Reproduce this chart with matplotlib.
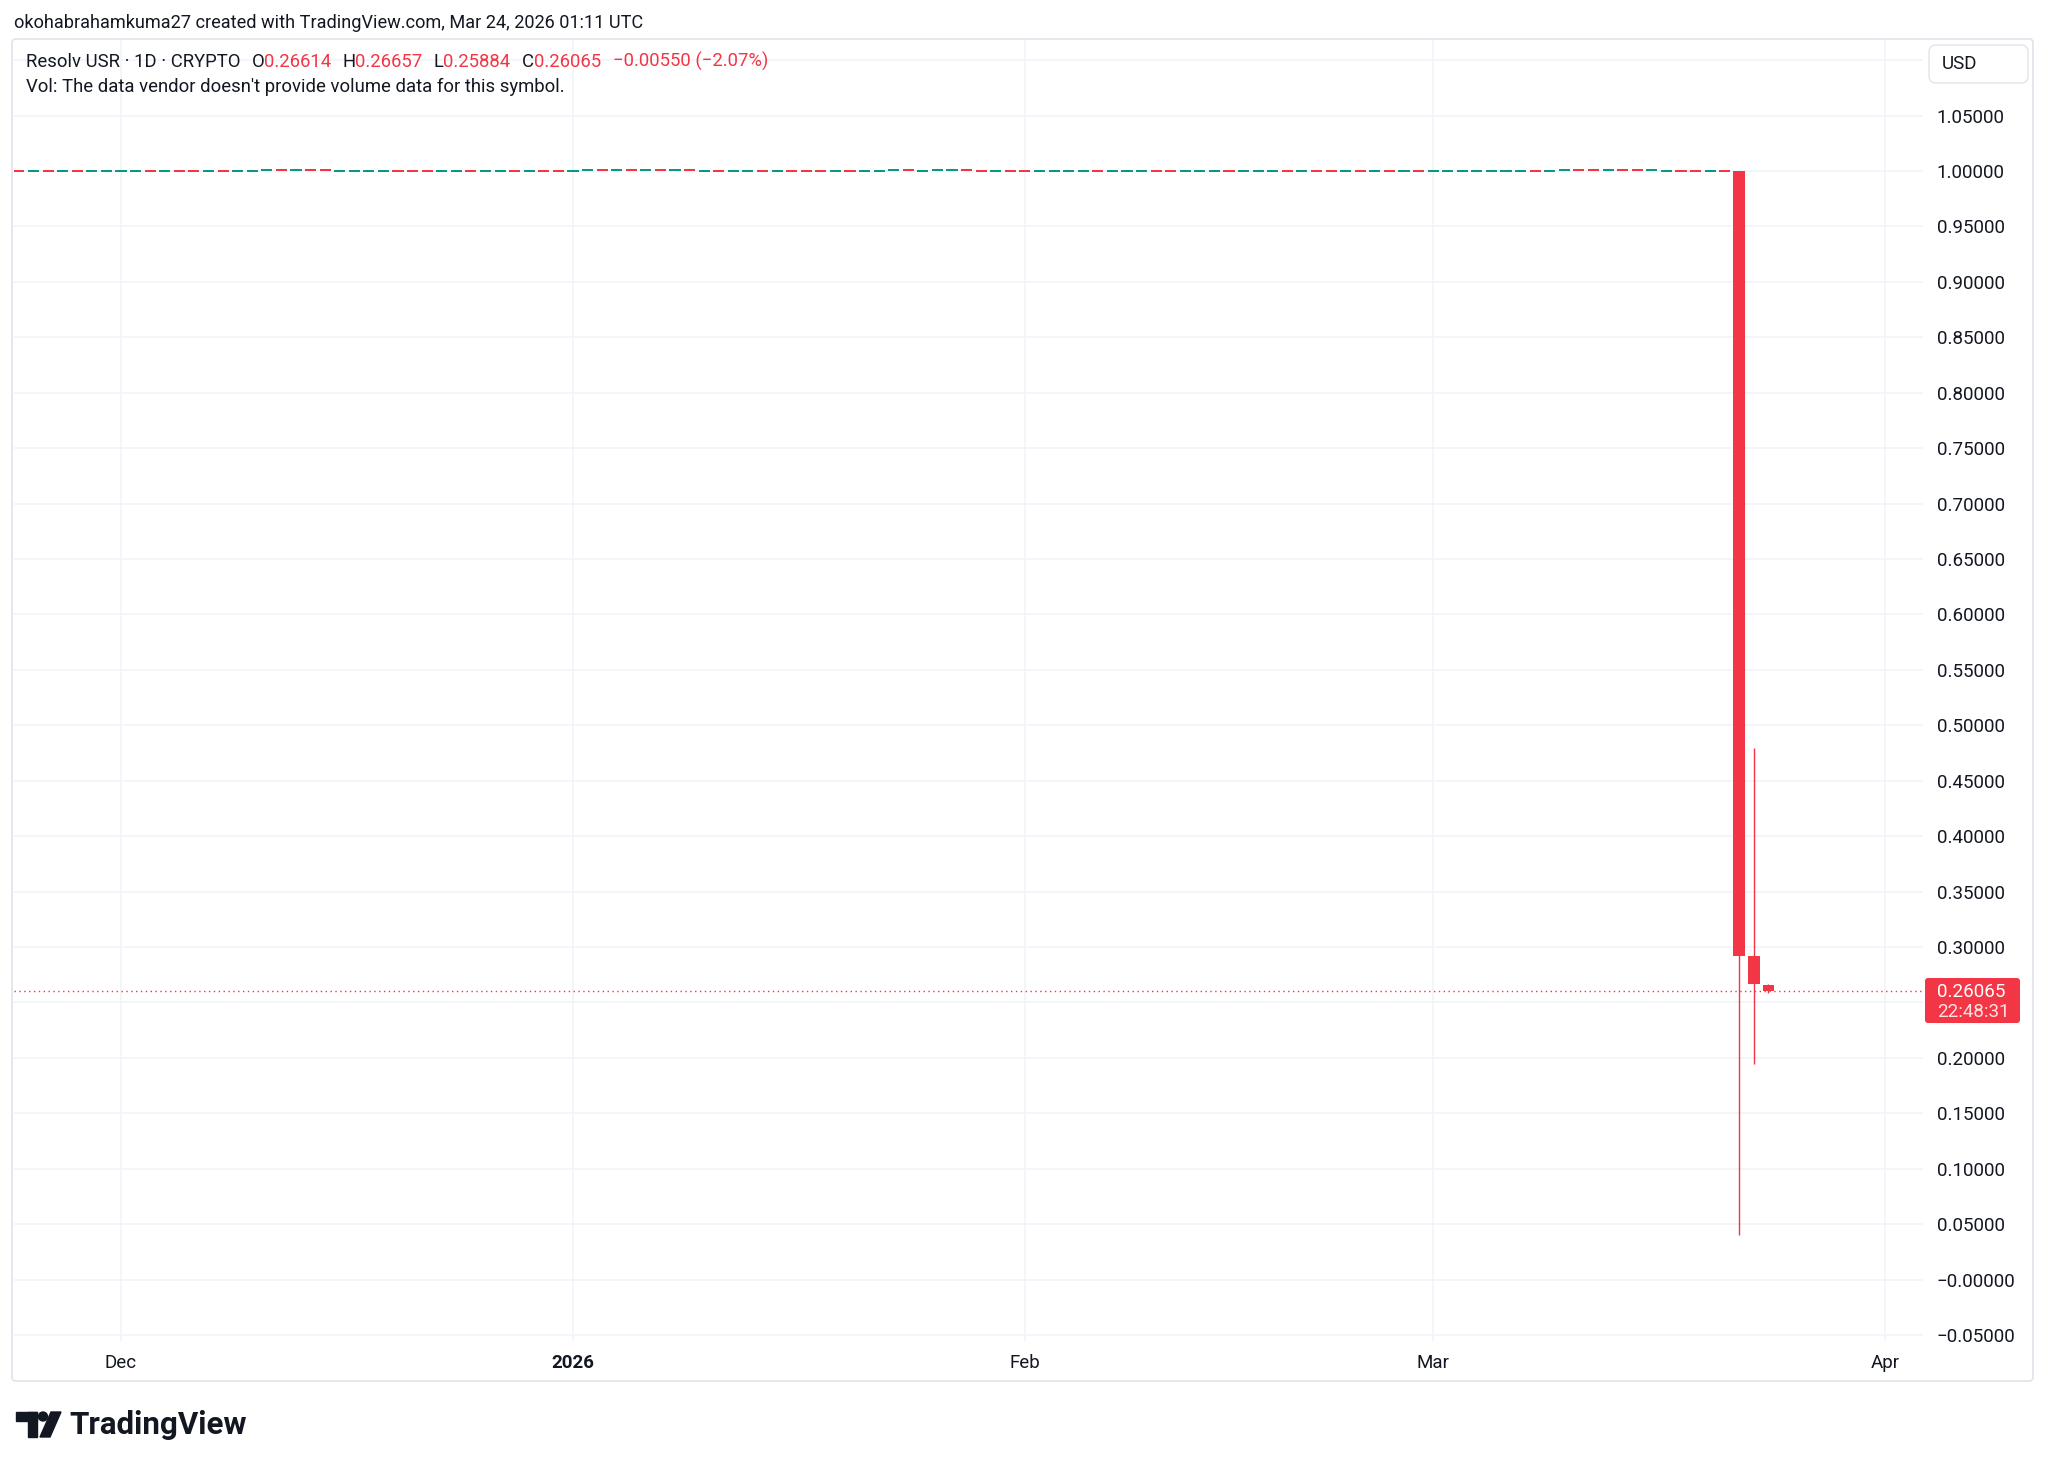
import datetime as dt

import matplotlib
matplotlib.use("Agg")
import matplotlib.dates as mdates
import matplotlib.pyplot as plt
import matplotlib.transforms as mtransforms
from matplotlib.patches import Circle, FancyBboxPatch, Polygon, Rectangle

plt.rcParams["font.family"] = ["Roboto", "DejaVu Sans"]

RED = "#F23645"
GREEN = "#089981"
TEXT = "#131722"
GRID = "#F0F3FA"
BORDER = "#E0E3EB"

W, H = 2048, 1469
FS = 13.5       # axis labels
FS_HEAD = 13.1  # header line
FS_LEG = 13.35  # legend lines

# ── data ──
first_day = dt.date(2025, 11, 24)

# flat stretch Nov 24 .. Mar 21, one char per daily candle (g = up, r = down)
flat_dir = (
    "rgrgrggggrgrrgrgggrgrrggggrrrg"
    "grggrgrrggrgrgrgrgrggrgrrrgrgg"
    "grgggrrgrrggggrgggrrgggrgggrgr"
    "rgrgrgrgggggggrggrrgrrggrrgr"
)
# 1 = candle sits a tick above 1.0000
flat_raised = (
    "00000000000000000111110000000000"
    "00000001111111100000000000001101"
    "11000000000000000000000000000000"
    "0000000000111111100000000000"
)
flat_base = 1.0000
flat_tick = 0.0009

# the depeg: Mar 22, Mar 23, Mar 24
drop_dates = [dt.date(2026, 3, 22), dt.date(2026, 3, 23), dt.date(2026, 3, 24)]
drop_open = [1.0000, 0.29200, 0.26614]
drop_high = [1.0000, 0.47950, 0.26657]
drop_low = [0.04000, 0.19450, 0.25884]
drop_close = [0.29200, 0.26672, 0.26065]

last_price = 0.26065
countdown = "22:48:31"

price_ticks = [-0.05, 0.0, 0.05, 0.10, 0.15, 0.20, 0.25, 0.30, 0.35, 0.40, 0.45,
               0.50, 0.55, 0.60, 0.65, 0.70, 0.75, 0.80, 0.85, 0.90, 0.95, 1.00,
               1.05, 1.10]
# 0.25 sits under the last-price tag, 1.10 under the USD box
price_labels = ["−0.05000", "−0.00000", "0.05000", "0.10000", "0.15000",
                "0.20000", "", "0.30000", "0.35000", "0.40000",
                "0.45000", "0.50000", "0.55000", "0.60000", "0.65000",
                "0.70000", "0.75000", "0.80000", "0.85000", "0.90000",
                "0.95000", "1.00000", "1.05000", ""]

month_ticks = [dt.date(2025, 12, 1), dt.date(2026, 1, 1), dt.date(2026, 2, 1),
               dt.date(2026, 3, 1), dt.date(2026, 4, 1)]
month_labels = ["Dec", "2026", "Feb", "Mar", "Apr"]

header = "okohabrahamkuma27 created with TradingView.com, Mar 24, 2026 01:11 UTC"
symbol = "Resolv USR · 1D · CRYPTO"
ohlc = [("O", "0.26614"), ("H", "0.26657"), ("L", "0.25884"), ("C", "0.26065")]
change = "−0.00550 (−2.07%)"
vol_note = "Vol: The data vendor doesn't provide volume data for this symbol."


# ── figure ──
fig = plt.figure(figsize=(W / 100, H / 100), dpi=100, facecolor="white")
# pixel coords, origin top-left
pix = mtransforms.Affine2D().scale(1 / W, -1 / H).translate(0, 1) + fig.transFigure

pane_l, pane_r, pane_t, pane_b = 14, 1923, 39, 1341
ax = fig.add_axes([pane_l / W, 1 - pane_b / H, (pane_r - pane_l) / W, (pane_b - pane_t) / H])
ax.set_facecolor("white")

dec1 = mdates.date2num(dt.date(2025, 12, 1))
ax.set_xlim(dec1 - 7.34, dec1 + 123.6)
ax.set_ylim(-0.0554, 1.1191)

# flat candles: bodies are thinner than a pixel, TradingView draws them as dashes
min_h = 0.0024
for i, (d, r) in enumerate(zip(flat_dir, flat_raised)):
    x = mdates.date2num(first_day + dt.timedelta(days=i))
    level = flat_base + (flat_tick if r == "1" else 0.0)
    ax.bar(x, min_h, bottom=level - min_h / 2, width=0.76,
           color=GREEN if d == "g" else RED, linewidth=0, zorder=3)

# the three crash candles
for d, o, h, lo, c in zip(drop_dates, drop_open, drop_high, drop_low, drop_close):
    x = mdates.date2num(d)
    col = GREEN if c >= o else RED
    ax.vlines(x, lo, h, color=col, lw=1.0, zorder=3)
    ax.bar(x, max(abs(c - o), min_h), bottom=min(o, c), width=0.8,
           color=col, linewidth=0, zorder=4)

ax.axhline(last_price, color=RED, lw=1.0, ls=(0, (1, 2.5)), zorder=2)

# axes cosmetics
ax.yaxis.tick_right()
ax.set_yticks(price_ticks)
ax.set_yticklabels(price_labels)
ax.tick_params(axis="y", length=0, pad=10, labelsize=FS, labelcolor=TEXT)
ax.set_xticks([mdates.date2num(m) for m in month_ticks])
ax.set_xticklabels(month_labels)
ax.tick_params(axis="x", length=0, pad=9, labelsize=FS, labelcolor=TEXT)
for lbl in ax.get_xticklabels():
    if lbl.get_text() == "2026":
        lbl.set_fontweight("bold")
ax.grid(True, color=GRID, lw=1.2, zorder=0)
ax.set_axisbelow(True)
for s in ax.spines.values():
    s.set_visible(False)

# outer frame
fig.patches.append(FancyBboxPatch((12, 39), 2033 - 12, 1381 - 39,
                                  boxstyle="round,pad=0,rounding_size=4",
                                  transform=pix, fill=False, edgecolor=BORDER, lw=1.2))

# USD box
fig.patches.append(FancyBboxPatch((1929, 45), 99, 38, boxstyle="round,pad=0,rounding_size=7",
                                  transform=pix, facecolor="white", edgecolor=BORDER, lw=1.0))
fig.text(1942, 64, "USD", transform=pix, fontsize=FS, color=TEXT, va="center", ha="left")

# last price tag
fig.patches.append(FancyBboxPatch((1925, 978), 95, 45, boxstyle="round,pad=0,rounding_size=3",
                                  transform=pix, facecolor=RED, edgecolor="none"))
fig.text(1937, 992, f"{last_price:.5f}", transform=pix, fontsize=FS, color="white",
         va="center", ha="left")
fig.text(1937, 1012, countdown, transform=pix, fontsize=FS, color="white", alpha=0.85,
         va="center", ha="left")

# header
fig.text(14, 23, header, transform=pix, fontsize=FS_HEAD, color=TEXT, va="center", ha="left")

# legend line, chained so colours can change mid-line
prev = fig.text(26, 62, symbol, transform=pix, fontsize=FS_LEG, color=TEXT,
                va="center", ha="left")
pieces = []
for letter, val in ohlc:
    pieces.append((letter, TEXT, 11))
    pieces.append((val, RED, 0))
pieces.append((change, RED, 12))
for s, c, gap in pieces:
    prev = ax.annotate(s, xy=(1, 0), xycoords=prev, xytext=(gap, 0),
                       textcoords="offset pixels", fontsize=FS_LEG, color=c,
                       va="bottom", ha="left", annotation_clip=False)

fig.text(26, 87, vol_note, transform=pix, fontsize=FS_LEG, color=TEXT, va="center", ha="left")

# TradingView logo
fig.patches.append(Rectangle((16, 1412), 21, 9, transform=pix, color=TEXT))
fig.patches.append(Rectangle((28, 1412), 9, 25, transform=pix, color=TEXT))
fig.patches.append(Circle((43, 1416.5), 4.5, transform=pix, color=TEXT))
fig.patches.append(Polygon([(40, 1437), (50, 1437), (61, 1412), (51, 1412)],
                           closed=True, transform=pix, color=TEXT))
fig.text(69, 1425, "TradingView", transform=pix, fontsize=22.5, fontweight="bold",
         color=TEXT, va="center", ha="left")

fig.savefig("out.png", dpi=100, facecolor="white")
